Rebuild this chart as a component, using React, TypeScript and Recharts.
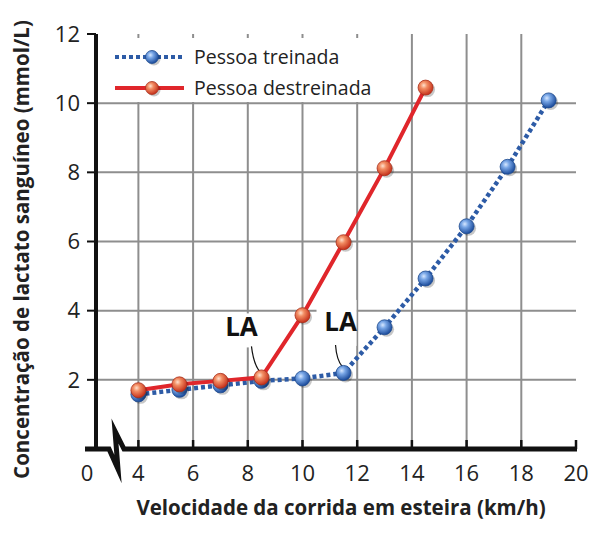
import React from 'react';
import {
  LineChart,
  Line,
  XAxis,
  YAxis,
  CartesianGrid,
  Legend,
  ReferenceDot,
  Customized,
} from 'recharts';

// ---------- data ----------
const speedsTrained = [4, 5.5, 7, 8.5, 10, 11.5, 13, 14.5, 16, 17.5, 19];
const lactateTrained = [1.58, 1.71, 1.84, 1.97, 2.04, 2.2, 3.52, 4.93, 6.44, 8.16, 10.08];
const speedsUntrained = [4, 5.5, 7, 8.5, 10, 11.5, 13, 14.5];
const lactateUntrained = [1.7, 1.87, 1.97, 2.07, 3.87, 5.98, 8.12, 10.45];

const seriesNames = ['Pessoa treinada', 'Pessoa destreinada'];
const xTicks = [4, 6, 8, 10, 12, 14, 16, 18, 20];
const yTicks = [2, 4, 6, 8, 10, 12];
const gridXValues = [4, 6, 8, 10, 12, 14, 16, 18];
const gridYValues = [2, 4, 6, 8, 10];
const X_MIN = 2.45; // broken axis: origin label "0"
const X_MAX = 20;
const Y_MIN = 0;
const Y_MAX = 12;
const thresholdLabel = 'LA';
const xTitle = 'Velocidade da corrida em esteira (km/h)';
const yTitle = 'Concentração de lactato sanguíneo (mmol/L)';

const trained = speedsTrained.map((x, i) => ({ x, y: lactateTrained[i] }));
const untrained = speedsUntrained.map((x, i) => ({ x, y: lactateUntrained[i] }));
const trainedThreshold = trained[5];
const untrainedThreshold = untrained[3];

// ---------- layout ----------
const W = 600;
const H = 536;
const MARGIN = { top: 34, right: 24, bottom: 27, left: 36 };
const YAXIS_W = 60;
const XAXIS_H = 60;
const PLOT_LEFT = MARGIN.left + YAXIS_W;
const PLOT_RIGHT = W - MARGIN.right;
const PLOT_BOTTOM = H - MARGIN.bottom - XAXIS_H;

const FONT = '"Open Sans", "DejaVu Sans", sans-serif';
const BLUE = '#2d5ba6';
const RED = '#e0262b';
const TEXT = '#222';

const Gradients = () => (
  <defs>
    <radialGradient id="gBlue" cx="38%" cy="35%" r="65%">
      <stop offset="0%" stopColor="#d6e7ff" />
      <stop offset="35%" stopColor="#78a6e6" />
      <stop offset="100%" stopColor="#1c4c9c" />
    </radialGradient>
    <radialGradient id="gRed" cx="38%" cy="35%" r="65%">
      <stop offset="0%" stopColor="#ffe0cc" />
      <stop offset="35%" stopColor="#f28c62" />
      <stop offset="100%" stopColor="#c6321c" />
    </radialGradient>
  </defs>
);

const Ball = ({ cx, cy, r, kind }: { cx: number; cy: number; r: number; kind: 'blue' | 'red' }) => (
  <g>
    <Gradients />
    <circle cx={cx + 2} cy={cy + 2} r={r} fill="rgba(0,0,0,0.22)" />
    <circle
      cx={cx}
      cy={cy}
      r={r}
      fill={kind === 'blue' ? 'url(#gBlue)' : 'url(#gRed)'}
      stroke={kind === 'blue' ? '#1d4a8e' : '#a8301c'}
      strokeWidth={0.8}
    />
  </g>
);

const BlueDot = (p: any) => (p.cx == null ? null : <Ball key={`b${p.index}`} cx={p.cx} cy={p.cy} r={7.5} kind="blue" />);
const RedDot = (p: any) => (p.cx == null ? null : <Ball key={`r${p.index}`} cx={p.cx} cy={p.cy} r={7.5} kind="red" />);

const TICK_FS = 22;

const XTick = (props: any) => {
  const { x, payload } = props;
  const v = payload.value;
  const ty = PLOT_BOTTOM + 32;
  if (Math.abs(v - X_MIN) < 1e-6) {
    return (
      <text x={x - 9} y={ty} textAnchor="middle" fontSize={TICK_FS} fontFamily={FONT} fill={TEXT}>
        0
      </text>
    );
  }
  return (
    <g>
      <line x1={x} x2={x} y1={PLOT_BOTTOM - 9} y2={PLOT_BOTTOM} stroke="#111" strokeWidth={2.5} />
      <text x={x} y={ty} textAnchor="middle" fontSize={TICK_FS} fontFamily={FONT} fill={TEXT}>
        {v}
      </text>
    </g>
  );
};

const TITLE_FS = 20.5;

const YTitle = (props: any) => {
  const vb = props.viewBox || { y: MARGIN.top, height: PLOT_BOTTOM - MARGIN.top };
  const cx = 21;
  const cy = vb.y + vb.height / 2 + 8;
  return (
    <text
      x={cx}
      y={cy}
      transform={`rotate(-90 ${cx} ${cy})`}
      textAnchor="middle"
      dominantBaseline="central"
      fontSize={TITLE_FS}
      fontWeight={700}
      fontFamily={FONT}
      fill={TEXT}
    >
      {yTitle}
    </text>
  );
};

const XTitle = (props: any) => {
  const vb = props.viewBox || { x: PLOT_LEFT, width: PLOT_RIGHT - PLOT_LEFT };
  const cx = vb.x + vb.width / 2 + 5;
  return (
    <text x={cx} y={PLOT_BOTTOM + 66} textAnchor="middle" fontSize={TITLE_FS} fontWeight={700} fontFamily={FONT} fill={TEXT}>
      {xTitle}
    </text>
  );
};

const AxisBreak = () => (
  <path
    d={`M ${PLOT_LEFT - 11} ${PLOT_BOTTOM} H ${PLOT_LEFT + 13} L ${PLOT_LEFT + 22} ${PLOT_BOTTOM + 20} L ${PLOT_LEFT + 19} ${PLOT_BOTTOM - 18} L ${PLOT_LEFT + 28} ${PLOT_BOTTOM} H ${PLOT_RIGHT + 1}`}
    fill="none"
    stroke="#111"
    strokeWidth={5}
    strokeLinejoin="miter"
    strokeMiterlimit={6}
  />
);

const makeLA = (tx: number, ty: number, path: string, box: [number, number, number, number]) => (p: any) => {
  const { cx, cy } = p;
  if (cx == null) return null;
  return (
    <g>
      <rect x={cx + box[0]} y={cy + box[1]} width={box[2]} height={box[3]} fill="#fff" />
      <text
        x={cx + tx}
        y={cy + ty}
        textAnchor="middle"
        fontSize={26}
        fontWeight={700}
        fontFamily={FONT}
        fill="#111"
      >
        {thresholdLabel}
      </text>
      <path d={path.replace(/(-?\d+(\.\d+)?) (-?\d+(\.\d+)?)/g, (_m, a, _b, c) => `${cx + Number(a)} ${cy + Number(c)}`)} fill="none" stroke="#111" strokeWidth={1.2} />
    </g>
  );
};

const LAUntrained = makeLA(-20, -41, 'M -10 -31 Q -8 -14 -2 -6', [-46, -64, 52, 34]);
const LATrained = makeLA(-3, -42, 'M -8 -28 Q -7 -13 -1 -6', [-27, -73, 40, 46]);

const LegendIcon = ({ kind }: { kind: 'blue' | 'red' }) => (
  <svg width={80} height={20} style={{ position: 'absolute', left: 6, top: 0, overflow: 'visible' }}>
    <line
      x1={5}
      x2={74}
      y1={10}
      y2={10}
      stroke={kind === 'blue' ? BLUE : RED}
      strokeWidth={4}
      strokeDasharray={kind === 'blue' ? '4 3' : undefined}
    />
    <Ball cx={42} cy={10} r={6.5} kind={kind} />
  </svg>
);

const LegendBox = () => (
  <div style={{ position: 'relative', width: 282, height: 64, background: '#fff', fontFamily: FONT }}>
    {seriesNames.map((name, i) => (
      <div key={name} style={{ position: 'absolute', left: 0, top: 9 + i * 31, height: 20, width: 282 }}>
        <LegendIcon kind={i === 0 ? 'blue' : 'red'} />
        <span
          style={{
            position: 'absolute',
            left: 90,
            top: -4,
            fontSize: 19.5,
            lineHeight: '28px',
            color: TEXT,
            whiteSpace: 'nowrap',
          }}
        >
          {name}
        </span>
      </div>
    ))}
  </div>
);

export default function App() {
  return (
    <div style={{ position: 'absolute', left: 0, top: 0, width: W, height: H, background: '#fff' }}>
      <LineChart width={W} height={H} margin={MARGIN}>
        <CartesianGrid
          stroke="#8e8e8e"
          strokeWidth={2}
          horizontalValues={gridYValues}
          verticalValues={gridXValues}
        />
        <XAxis
          type="number"
          dataKey="x"
          domain={[X_MIN, X_MAX]}
          ticks={[X_MIN, ...xTicks]}
          allowDataOverflow
          height={XAXIS_H}
          axisLine={false}
          tickLine={false}
          tick={<XTick />}
          interval={0}
          label={<XTitle />}
        />
        <YAxis
          type="number"
          domain={[Y_MIN, Y_MAX]}
          ticks={yTicks}
          width={YAXIS_W}
          axisLine={{ stroke: '#111', strokeWidth: 4 }}
          tickLine={{ stroke: '#111', strokeWidth: 2 }}
          tickSize={9}
          tickMargin={7}
          interval={0}
          tick={{ fontSize: TICK_FS, fontFamily: FONT, fill: TEXT }}
          label={<YTitle />}
        />
        <Customized component={AxisBreak} />
        <Line
          data={trained}
          dataKey="y"
          name={seriesNames[0]}
          type="linear"
          stroke={BLUE}
          strokeWidth={4.5}
          strokeDasharray="4 3"
          dot={BlueDot}
          activeDot={false}
          isAnimationActive={false}
        />
        <Line
          data={untrained}
          dataKey="y"
          name={seriesNames[1]}
          type="linear"
          stroke={RED}
          strokeWidth={4}
          dot={RedDot}
          activeDot={false}
          isAnimationActive={false}
        />
        <ReferenceDot x={untrainedThreshold.x} y={untrainedThreshold.y} r={0} shape={LAUntrained} />
        <ReferenceDot x={trainedThreshold.x} y={trainedThreshold.y} r={0} shape={LATrained} />
        <Legend
          layout="horizontal"
          verticalAlign="middle"
          align="center"
          content={<LegendBox />}
          wrapperStyle={{ left: 104, top: 38, width: 282, height: 64 }}
        />
      </LineChart>
    </div>
  );
}
